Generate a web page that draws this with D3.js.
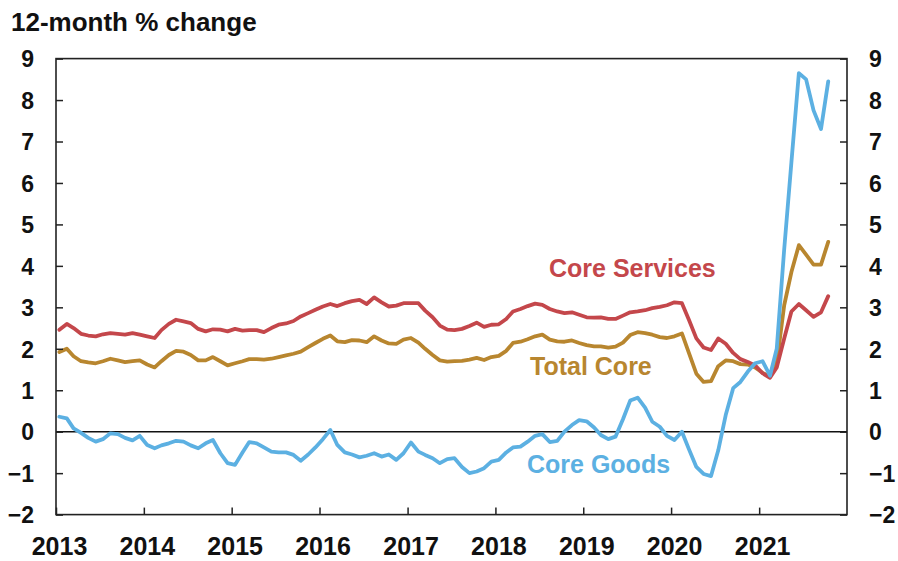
<!DOCTYPE html>
<html>
<head>
<meta charset="utf-8">
<script src="https://cdn.jsdelivr.net/npm/d3@7"></script>
<style>
  body { margin: 0; background: #fff; }
  text { font-family: "Liberation Sans", Arial, Helvetica, sans-serif; font-weight: bold; }
</style>
</head>
<body>
<script>
let width = 898, height = 561

// monthly 12-month % change, Jan 2013 - Oct 2021
let startYear = 2013
let coreServices = [
  2.46,2.60,2.50,2.36,2.32,2.30,2.35,2.38,2.36,2.34,2.38,2.34,
  2.30,2.26,2.45,2.60,2.70,2.66,2.62,2.48,2.42,2.47,2.46,2.42,
  2.48,2.44,2.45,2.45,2.40,2.50,2.58,2.61,2.67,2.78,2.86,2.94,
  3.02,3.08,3.03,3.10,3.15,3.18,3.08,3.24,3.12,3.02,3.04,3.10,
  3.10,3.10,2.92,2.76,2.56,2.46,2.45,2.48,2.55,2.63,2.53,2.58,
  2.59,2.72,2.90,2.96,3.03,3.09,3.06,2.96,2.90,2.86,2.88,2.82,
  2.76,2.75,2.76,2.72,2.72,2.80,2.88,2.90,2.93,2.98,3.01,3.05,
  3.12,3.10,2.70,2.25,2.03,1.97,2.25,2.12,1.90,1.75,1.68,1.60,
  1.41,1.30,1.55,2.25,2.90,3.08,2.93,2.77,2.88,3.27
]
let totalCore = [
  1.92,2.00,1.82,1.70,1.67,1.65,1.70,1.76,1.72,1.68,1.70,1.72,
  1.62,1.55,1.70,1.85,1.95,1.93,1.85,1.72,1.72,1.80,1.70,1.60,
  1.65,1.70,1.75,1.75,1.74,1.76,1.80,1.84,1.88,1.93,2.04,2.14,
  2.24,2.32,2.18,2.16,2.21,2.20,2.16,2.30,2.20,2.13,2.12,2.22,
  2.26,2.15,2.00,1.85,1.72,1.69,1.70,1.71,1.74,1.78,1.73,1.80,
  1.83,1.95,2.14,2.17,2.23,2.30,2.34,2.22,2.18,2.17,2.20,2.14,
  2.09,2.06,2.06,2.03,2.05,2.15,2.33,2.40,2.38,2.34,2.28,2.26,
  2.30,2.37,1.90,1.40,1.20,1.22,1.58,1.72,1.70,1.63,1.62,1.55,
  1.42,1.33,1.65,3.05,3.85,4.50,4.27,4.03,4.03,4.58
]
let coreGoods = [
  0.36,0.32,0.08,-0.03,-0.15,-0.24,-0.18,-0.04,-0.06,-0.15,-0.21,-0.10,
  -0.32,-0.40,-0.33,-0.28,-0.22,-0.24,-0.33,-0.40,-0.28,-0.20,-0.52,-0.76,
  -0.80,-0.50,-0.25,-0.28,-0.38,-0.48,-0.50,-0.50,-0.56,-0.70,-0.55,-0.38,
  -0.18,0.04,-0.32,-0.50,-0.55,-0.62,-0.58,-0.52,-0.60,-0.55,-0.68,-0.52,
  -0.26,-0.48,-0.56,-0.64,-0.76,-0.66,-0.64,-0.85,-1.00,-0.96,-0.88,-0.72,
  -0.68,-0.50,-0.38,-0.36,-0.24,-0.10,-0.06,-0.25,-0.22,0.00,0.16,0.28,
  0.25,0.10,-0.08,-0.18,-0.12,0.30,0.75,0.82,0.58,0.24,0.12,-0.10,
  -0.20,0.00,-0.42,-0.85,-1.02,-1.07,-0.45,0.40,1.05,1.20,1.45,1.65,
  1.70,1.35,2.00,4.40,6.50,8.65,8.50,7.75,7.30,8.45
]
let yearTicks = ['2013','2014','2015','2016','2017','2018','2019','2020','2021']
let yTicks = [-2,-1,0,1,2,3,4,5,6,7,8,9]

let series = [
  {name: 'Total Core', values: totalCore, color: '#b8862f', lx: 530, ly: 375},
  {name: 'Core Services', values: coreServices, color: '#c4474b', lx: 549, ly: 277},
  {name: 'Core Goods', values: coreGoods, color: '#5cb0e2', lx: 527, ly: 473}
]

let plotLeft = 56, plotRight = 847, plotTop = 58.6, plotBottom = 514.6

let x = d3.scaleTime()
    .domain([new Date(2013, 0, 1), new Date(2022, 0, 1)])
    .range([plotLeft, plotRight])
let y = d3.scaleLinear().domain([-2, 9]).range([plotBottom, plotTop])

// points sit mid-month
let monthDate = i => new Date(startYear, i, 15)

let svg = d3.select('body').append('svg')
    .attr('width', width)
    .attr('height', height)

svg.append('text')
    .attr('x', 11)
    .attr('y', 31)
    .attr('font-size', 26)
    .attr('fill', '#111')
    .text('12-month % change')

// zero line
svg.append('line')
    .attr('x1', plotLeft).attr('x2', plotRight)
    .attr('y1', y(0)).attr('y2', y(0))
    .attr('stroke', '#111')
    .attr('stroke-width', 1.6)

let line = d3.line()
    .x((d, i) => x(monthDate(i)))
    .y(d => y(d))

svg.append('g').selectAll('path')
    .data(series)
    .enter().append('path')
    .attr('d', d => line(d.values))
    .attr('fill', 'none')
    .attr('stroke', d => d.color)
    .attr('stroke-width', 3.8)
    .attr('stroke-linejoin', 'round')
    .attr('stroke-linecap', 'round')

svg.append('g').selectAll('text')
    .data(series)
    .enter().append('text')
    .attr('x', d => d.lx)
    .attr('y', d => d.ly)
    .attr('font-size', 25)
    .attr('fill', d => d.color)
    .text(d => d.name)

// frame
svg.append('rect')
    .attr('x', plotLeft).attr('y', plotTop)
    .attr('width', plotRight - plotLeft).attr('height', plotBottom - plotTop)
    .attr('fill', 'none')
    .attr('stroke', '#222')
    .attr('stroke-width', 1.6)

let yLeft = svg.append('g')
    .attr('transform', `translate(${plotLeft},0)`)
    .call(d3.axisLeft(y).tickValues(yTicks).tickSize(-7).tickPadding(22).tickFormat(d3.format('d')))
let yRight = svg.append('g')
    .attr('transform', `translate(${plotRight},0)`)
    .call(d3.axisRight(y).tickValues(yTicks).tickSize(-7).tickPadding(22).tickFormat(d3.format('d')))
let xAxis = svg.append('g')
    .attr('transform', `translate(0,${plotBottom})`)
    .call(d3.axisBottom(x)
        .tickValues(yearTicks.map(t => new Date(+t, 0, 1)))
        .tickSize(-7).tickPadding(23)
        .tickFormat((d, i) => yearTicks[i]))

for (let g of [yLeft, yRight, xAxis]) {
    g.select('.domain').remove()
    g.selectAll('.tick line').attr('stroke', '#222').attr('stroke-width', 1.5)
    g.selectAll('.tick text')
        .attr('fill', '#111')
        .attr('font-size', 23)
        .attr('font-family', '"Liberation Sans", Arial, sans-serif')
        .attr('font-weight', 'bold')
}
yLeft.selectAll('.tick text').attr('dy', '0.36em')
yRight.selectAll('.tick text').attr('dy', '0.36em')
xAxis.selectAll('.tick text').attr('font-size', 25).attr('dx', 3)
</script>
</body>
</html>
